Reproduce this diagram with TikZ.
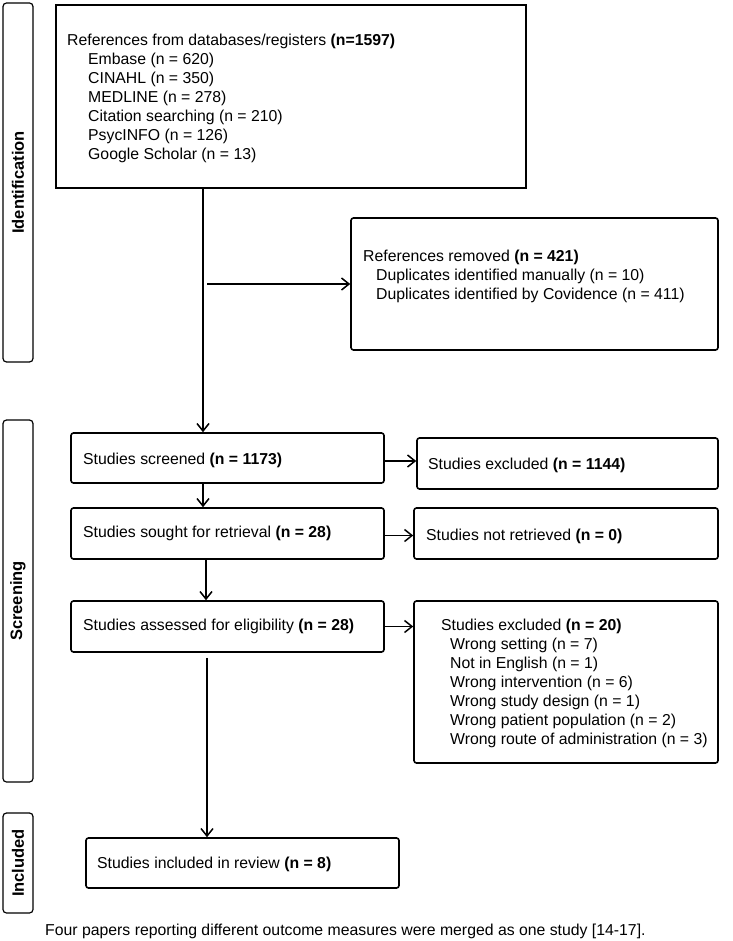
\documentclass[tikz,border=0pt]{standalone}
\usepackage{fontspec}
\setmainfont{Liberation Sans}
\usetikzlibrary{arrows.meta,calc}
\begin{document}
\begin{tikzpicture}[x=1pt,y=-1pt,
  every node/.style={font=\fontsize{15.8}{19}\selectfont},
  box/.style={draw, line width=1.6pt, rounded corners=2.5pt, inner sep=0pt},
  sqbox/.style={draw, line width=1.6pt, inner sep=0pt},
  lab/.style={draw, line width=1.2pt, rounded corners=3.5pt, inner sep=0pt,
    font=\fontsize{16.5}{19}\selectfont\bfseries},
  txt/.style={inner sep=0pt, align=left, anchor=west},
  arr/.style={line width=1.5pt, -{Straight Barb[length=7.5pt,width=12pt]}}]
\useasboundingbox (0,0) rectangle (732,941);
% phase labels
\node[lab, rotate=90, minimum width=359pt, minimum height=30pt] (idl) at (18,182.5) {Identification};
\node[lab, rotate=90, minimum width=362pt, minimum height=30pt] (scl) at (18,601) {Screening};
\node[lab, rotate=90, minimum width=100pt, minimum height=30pt] (inl) at (18,863) {Included};
% boxes
\node[sqbox, minimum width=470pt, minimum height=183pt] (src) at (291,96.5) {};
\node[box, minimum width=367pt, minimum height=132pt] (rem) at (534.5,284) {};
\node[box, minimum width=313pt, minimum height=50pt] (scr) at (227.5,458) {};
\node[box, minimum width=301pt, minimum height=51pt] (exa) at (567.5,463.5) {};
\node[box, minimum width=313pt, minimum height=51pt] (sgt) at (227.5,533.5) {};
\node[box, minimum width=304pt, minimum height=51pt] (nrt) at (566,533.5) {};
\node[box, minimum width=313pt, minimum height=51pt] (asm) at (227.5,626.5) {};
\node[box, minimum width=304pt, minimum height=162pt] (exb) at (566,682) {};
\node[box, minimum width=313pt, minimum height=50pt] (inc) at (242.5,863) {};
% texts
\node[txt] (tsrc) at (67,98.5) {References from databases/registers \textbf{(n=1597)}\\
\hspace*{21pt}Embase (n = 620)\\
\hspace*{21pt}CINAHL (n = 350)\\
\hspace*{21pt}MEDLINE (n = 278)\\
\hspace*{21pt}Citation searching (n = 210)\\
\hspace*{21pt}PsycINFO (n = 126)\\
\hspace*{21pt}Google Scholar (n = 13)};
\node[txt] (trem) at (363,276) {References removed \textbf{(n = 421)}\\
\hspace*{13pt}Duplicates identified manually (n = 10)\\
\hspace*{13pt}Duplicates identified by Covidence (n = 411)};
\node[txt] (tscr) at (83,460) {Studies screened \textbf{(n = 1173)}};
\node[txt] (texa) at (428,465) {Studies excluded \textbf{(n = 1144)}};
\node[txt] (tsgt) at (83,533) {Studies sought for retrieval \textbf{(n = 28)}};
\node[txt] (tnrt) at (426,536) {Studies not retrieved \textbf{(n = 0)}};
\node[txt] (tasm) at (83,626) {Studies assessed for eligibility \textbf{(n = 28)}};
\node[txt] (texb) at (441,683) {Studies excluded \textbf{(n = 20)}\\
\hspace*{9pt}Wrong setting (n = 7)\\
\hspace*{9pt}Not in English (n = 1)\\
\hspace*{9pt}Wrong intervention (n = 6)\\
\hspace*{9pt}Wrong study design (n = 1)\\
\hspace*{9pt}Wrong patient population (n = 2)\\
\hspace*{9pt}Wrong route of administration (n = 3)};
\node[txt] (tinc) at (97,864) {Studies included in review \textbf{(n = 8)}};
\node[txt] (note) at (45,931) {Four papers reporting different outcome measures were merged as one study [14-17].};
% connectors
\coordinate (mx) at (203,0);
\coordinate (br) at (207,284);
\draw[arr] (src.south -| mx) -- (scr.north -| mx);
\draw[arr] (br) -- (rem.west |- br);
\draw[arr] ($(scr.east)+(0,3)$) -- ($(exa.west |- scr.east)+(0,3)$);
\draw[arr] (scr.south -| mx) -- (sgt.north -| mx);
\draw[arr] ($(sgt.east)+(0,2)$) -- ($(nrt.west |- sgt.east)+(0,2)$);
\coordinate (mx2) at (206,0);
\draw[arr] (sgt.south -| mx2) -- (asm.north -| mx2);
\draw[arr] (asm.east) -- (exb.west |- asm.east);
\coordinate (mx3) at (207,0);
\draw[arr, shorten <=5pt] (asm.south -| mx3) -- (inc.north -| mx3);
\end{tikzpicture}
\end{document}
